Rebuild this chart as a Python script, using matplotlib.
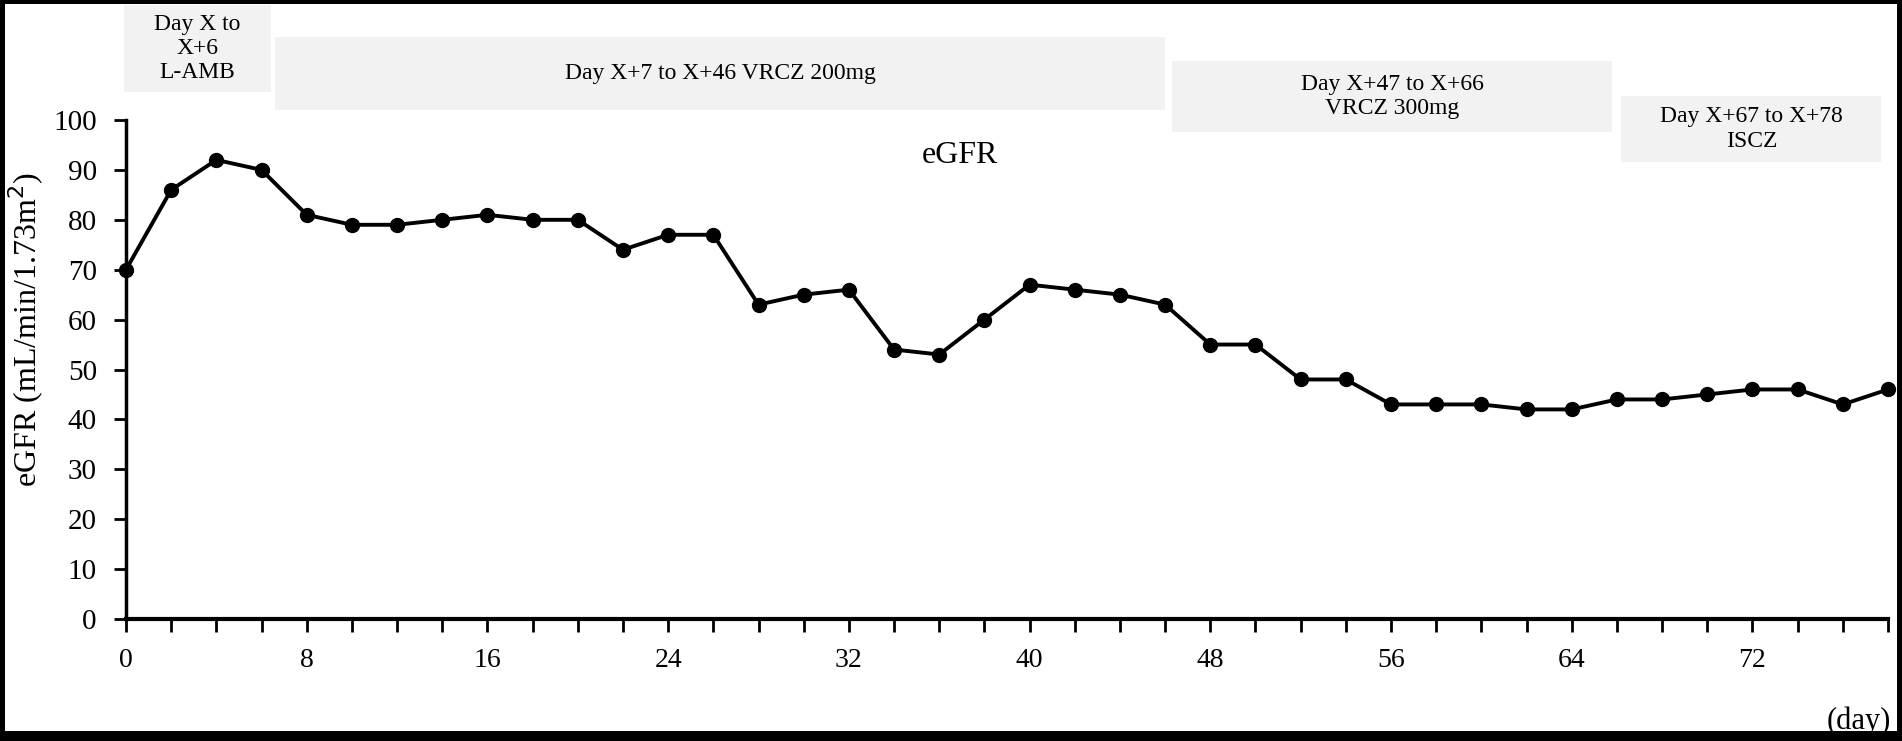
import matplotlib
matplotlib.use('Agg')
import matplotlib.pyplot as plt
from matplotlib.patches import Rectangle
from matplotlib.ticker import MultipleLocator

# eGFR measured every 2 days
days = list(range(0, 80, 2))
egfr = [70, 86, 92, 90, 81, 79, 79, 80, 81, 80,
        80, 74, 77, 77, 63, 65, 66, 54, 53, 60,
        67, 66, 65, 63, 55, 55, 48, 48, 43, 43,
        43, 42, 42, 44, 44, 45, 46, 46, 43, 46]

# treatment phases
phase_labels = ['Day X to\nX+6\nL-AMB',
                'Day X+7 to X+46 VRCZ 200mg',
                'Day X+47 to X+66\nVRCZ 300mg',
                'Day X+67 to X+78\nISCZ']

# box layout (x span in days, y span in eGFR units, drawn outside axes)
box_x = [(-0.1, 6.4), (6.6, 46.0), (46.3, 65.8), (66.2, 77.7)]
box_y = [(105.6, 123.0), (102.0, 116.6), (97.6, 111.8), (91.6, 104.8)]

plt.rcParams['font.family'] = ['Liberation Serif', 'DejaVu Serif']

fig = plt.figure(figsize=(19.02, 7.41), dpi=100)
ax = fig.add_axes([126/1902, 122/741, 1762/1902, 499/741])

ax.plot(days, egfr, color='black', lw=2.8, marker='o', markersize=10,
        clip_on=False, zorder=5)

ax.set_xlim(0, 78)
ax.set_ylim(0, 100)
ax.xaxis.set_major_locator(MultipleLocator(8))
ax.xaxis.set_minor_locator(MultipleLocator(2))
ax.yaxis.set_major_locator(MultipleLocator(10))
ax.tick_params(axis='both', which='both', direction='out', length=9,
               width=2, color='black')
ax.tick_params(axis='x', which='major', pad=12, labelsize=20)
ax.tick_params(axis='y', which='major', pad=12, labelsize=21)
ax.spines['top'].set_visible(False)
ax.spines['right'].set_visible(False)
ax.spines['left'].set_linewidth(2.5)
ax.spines['bottom'].set_linewidth(3)

for lab, (x0, x1), (y0, y1) in zip(phase_labels, box_x, box_y):
    ax.add_patch(Rectangle((x0, y0), x1 - x0, y1 - y0, facecolor='#f2f2f2',
                           edgecolor='none', clip_on=False, zorder=1))
    ax.text((x0 + x1) / 2, (y0 + y1) / 2, lab, ha='center', va='center',
            fontsize=17, linespacing=1.2, clip_on=False, zorder=2)

ax.text(36.9, 92.8, 'eGFR', ha='center', va='center', fontsize=23)

fig.text(26/1902, 1 - 330/741, 'eGFR (mL/min/1.73m$^{2}$)', rotation=90,
         ha='center', va='center', fontsize=23)
fig.text(1891/1902, 1 - 721/741, '(day)', ha='right', va='center', fontsize=22)

# black frame around image
W, H = 1902, 741
for (x, y, w, h) in [(0, 0, W, 10), (0, H - 4, W, 4), (0, 0, 5, H), (W - 5, 0, 5, H)]:
    fig.patches.append(Rectangle((x / W, y / H), w / W, h / H, transform=fig.transFigure,
                                 facecolor='black', edgecolor='none', zorder=10))

fig.savefig('out.png', dpi=100)
